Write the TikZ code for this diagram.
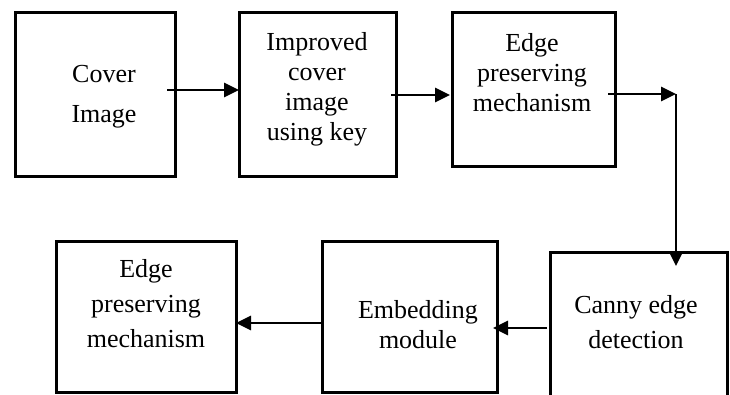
\documentclass[tikz,border=0pt]{standalone}
\usepackage{fontspec}
\setmainfont{Liberation Serif}
\usetikzlibrary{arrows.meta,calc}
\begin{document}
\begin{tikzpicture}[x=1pt,y=-1pt,
  box/.style={draw,line width=3pt,inner sep=0pt,outer sep=0pt},
  txt/.style={align=center,inner sep=0pt,font=\fontsize{26}{30}\selectfont},
  arr/.style={line width=2.8pt,-{Triangle[length=15pt,width=14pt]}}]
\clip (0,0) rectangle (730,394);
% boxes
\node[box,minimum width=160pt,minimum height=164pt] (b1) at (95,94) {};
\node[box,minimum width=157pt,minimum height=164pt] (b2) at (317.5,94) {};
\node[box,minimum width=163pt,minimum height=154pt] (b3) at (533.5,89) {};
\node[box,minimum width=177pt,minimum height=168pt] (b4) at (638.5,336) {};
\node[box,minimum width=175pt,minimum height=151pt] (b5) at (409.5,316.5) {};
\node[box,minimum width=180pt,minimum height=151pt] (b6) at (146,316.5) {};
% texts
\node[txt,font=\fontsize{26}{40}\selectfont] (t1) at (104,94) {\strut Cover\\\strut Image};
\node[txt] (t2) at (317,89) {\strut Improved\\cover\\image\\using key\strut};
\node[txt] (t3) at (532,75) {\strut Edge\\preserving\\mechanism\strut};
\node[txt,font=\fontsize{26}{35}\selectfont] (t4) at (636,323.5) {\strut Canny edge\\detection\strut};
\node[txt] (t5) at (418,327) {\strut Embedding\\module\strut};
\node[txt,font=\fontsize{26}{35}\selectfont] (t6) at (146,305) {\strut Edge\\preserving\\mechanism\strut};
% connectors
\coordinate (c1) at (676,94);
\draw[arr] ([xshift=-8pt,yshift=4pt]b1.east) -- ([yshift=4pt]b2.west);
\draw[arr] ([xshift=-5pt,yshift=-1pt]b2.east) -- ([xshift=-2pt,yshift=-6pt]b3.west);
\draw[arr] ([xshift=-7pt,yshift=-5pt]b3.east) -- (c1);
\draw[arr] (c1) -- ($(c1 |- b4.north)+(0,14)$);
\draw[arr] ([xshift=-3pt,yshift=8pt]b4.west) -- ([xshift=-4pt,yshift=-11.5pt]b5.east);
\draw[arr] ([xshift=1pt,yshift=-6.5pt]b5.west) -- ([yshift=-6.5pt]b6.east);
\end{tikzpicture}
\end{document}
